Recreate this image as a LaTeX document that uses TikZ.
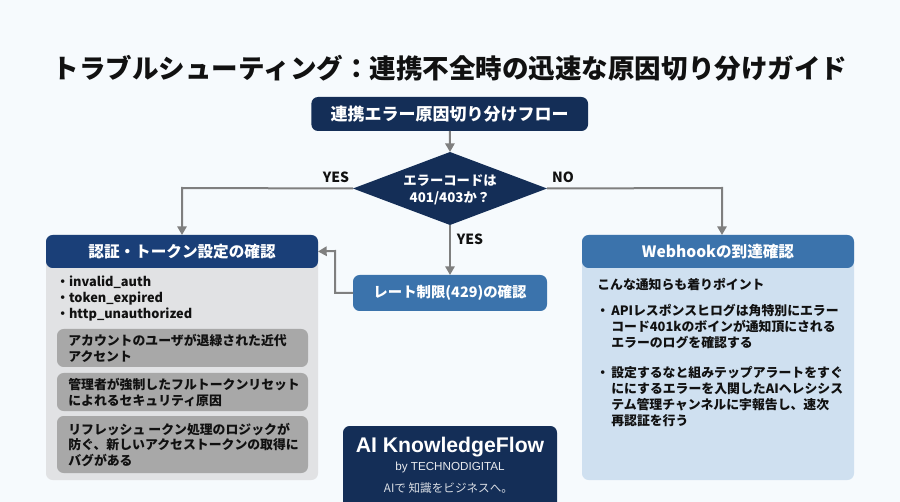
\documentclass[tikz,border=0pt]{standalone}
\usepackage{fontspec}
\setmainfont{Noto Sans CJK JP}
\newfontfamily\logofont{Liberation Sans}
\usetikzlibrary{shapes.geometric,arrows.meta}
\definecolor{bgc}{HTML}{F6FAFD}
\definecolor{navy}{HTML}{142E57}
\definecolor{headblue}{HTML}{1A3F78}
\definecolor{midblue}{HTML}{3B73AC}
\definecolor{greybody}{HTML}{E1E2E4}
\definecolor{greysub}{HTML}{A8A8A8}
\definecolor{bluebody}{HTML}{CFE0F0}
\definecolor{conn}{HTML}{7F7F7F}
\definecolor{ink}{HTML}{111111}
\newcommand{\fpx}[2]{\fontsize{#1}{#2}\selectfont}
\tikzset{
  panel/.style={rounded corners=5pt,inner sep=0pt,outer sep=0pt},
  head/.style={panel,text=white,font=\bfseries\fpx{11.7}{14}},
  sub/.style={panel,fill=greysub,minimum width=188.25pt,text=ink},
  bodytext/.style={anchor=north west,inner sep=0pt,align=left,text=ink,font=\bfseries\fpx{9.65}{12}},
  conn/.style={draw=conn,line width=1.5pt,-{Triangle[length=6.5pt,width=7pt]}},
  lbl/.style={inner sep=0pt,text=ink,font=\bfseries\fpx{10.5}{12}},
}
\begin{document}
\begin{tikzpicture}[x=0.75pt,y=-0.75pt]
\path[use as bounding box,fill=bgc] (0,0) rectangle (900,502);
\node[inner sep=0pt,text=ink,font=\bfseries\fpx{19.9}{24}] (title) at (450,68) {トラブルシューティング\char"FF1A 連携不全時の迅速な原因切り分けガイド};
\node[panel,fill=navy,text=white,minimum width=207.5pt,minimum height=25.5pt,font=\bfseries\fpx{12.75}{15}] (start) at (449.7,114) {連携エラー原因切り分けフロー};
\node[diamond,fill=navy,inner sep=0pt,outer sep=0pt,minimum width=145.5pt,minimum height=54.75pt,aspect=2.66] (dec) at (450,188.5) {};
\node[inner sep=0pt,align=center,text=white,font=\bfseries\fpx{10}{12.75}] (dectext) at (450,189.5) {エラーコードは\\401/403か\char"FF1F};
% left panel
\node[panel,fill=greybody,minimum width=204pt,minimum height=183.75pt,anchor=north west] (leftbody) at (46,235) {};
\node[head,fill=headblue,minimum width=204pt,minimum height=24.75pt,anchor=north west] (lefthead) at (46,235) {認証・トークン設定の確認};
\node[bodytext,font=\bfseries\fpx{9.6}{11.7}] (bullets) at (56,276) {・invalid\_auth\\・token\_expired\\・http\_unauthorized};
\node[sub,minimum height=28.5pt,anchor=north west] (s1) at (57,329) {};
\node[bodytext,anchor=west] (s1t) at (68,348.5) {アカウントのユーザが退緑された近代\\アクセント};
\node[sub,minimum height=28.5pt,anchor=north west] (s2) at (57,373) {};
\node[bodytext,anchor=west] (s2t) at (68,392) {管理者が強制したフルトークンリセット\\によれるセキュリティ原因};
\node[sub,minimum height=42.75pt,anchor=north west] (s3) at (57,416) {};
\node[bodytext,anchor=west] (s3t) at (68,445) {リフレッシュ ークン処理のロジックが\\防ぐ、新しいアクセストークンの取得に\\バグがある};
% right panel
\node[panel,fill=bluebody,minimum width=204pt,minimum height=183.75pt,anchor=north west] (rightbody) at (582,235) {};
\node[head,fill=midblue,minimum width=204pt,minimum height=24.75pt,anchor=north west] (righthead) at (582,235) {Webhookの到達確認};
\node[bodytext,anchor=west] (rt0) at (597,284.5) {こんな通知らも着りポイント};
\node[bodytext,anchor=base west] (rb1) at (596,316) {・};
\node[bodytext] (rt1) at (611,304) {APIレスポンスヒログは角特別にエラー\\コード401kのボインが通知頂にされる\\エラーのログを確認する};
\node[bodytext,anchor=base west] (rb2) at (596,378) {・};
\node[bodytext] (rt2) at (611,366) {設定するなと組みテップアラートをすぐ\\ににするエラーを入関したAIヘレシシス\\テム管理チャンネルに宇報告し、速次\\再認証を行う};
% rate
\node[panel,fill=midblue,text=white,minimum width=145.5pt,minimum height=27pt,font=\bfseries\fpx{10.8}{14}] (rate) at (450,293) {レート制限(429)の確認};
% logo
\fill[navy] (343,502) [rounded corners=5pt] -- (343,426) -- (557,426) [sharp corners] -- (557,502) -- cycle;
\node[inner sep=0pt,text=white,font=\logofont\bfseries\fpx{15.9}{18}] (logo1) at (450,447) {AI KnowledgeFlow};
\node[inner sep=0pt,text=white!90!navy,font=\logofont\fpx{8.75}{11}] (logo2) at (450,467) {by TECHNODIGITAL};
\node[inner sep=0pt,text=white!85!navy,font=\fpx{8.7}{11}] (logo3) at (448.5,488) {AIで 知識をビジネスへ。};
% connectors
\coordinate (ltop) at (182,188);
\coordinate (rtop) at (722,188);
\coordinate (rend) at (722,235);
\coordinate (bend) at (335,251);
\draw[conn] (start) -- (dec.north);
\draw[conn] (dec.west) -- (ltop) -- (lefthead.north);
\draw[conn] (dec.east) -- (rtop) -- (rend);
\draw[conn] (dec.south) -- (rate.north);
\draw[conn] (rate.west) -| (bend) -- (lefthead.east);
% labels
\node[lbl] (yes1) at (336,177) {YES};
\node[lbl] (no) at (563,177) {NO};
\node[lbl] (yes2) at (470,239) {YES};
\end{tikzpicture}
\end{document}
